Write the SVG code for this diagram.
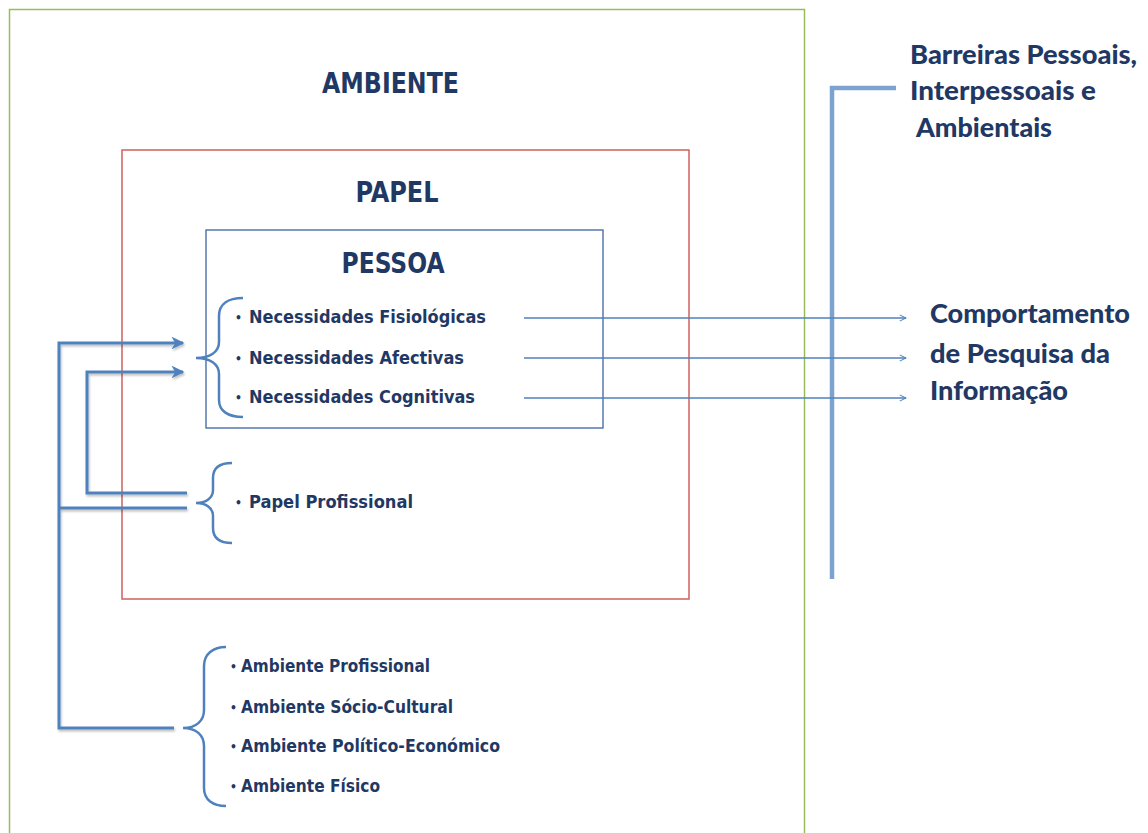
<svg xmlns="http://www.w3.org/2000/svg" width="1148" height="833" viewBox="0 0 1148 833">
<style>
.box{fill:none}
.t{font-family:'DejaVu Sans Condensed','DejaVu Sans',sans-serif;font-weight:bold;fill:#1f3864}
.r{font-family:Lato,'Liberation Sans',sans-serif;font-weight:900;fill:#1f3864}
.big{font-size:28px}
.item{font-size:18.5px}
.bul{font-size:12px}
.rt{font-size:26px}
.thick{fill:none;stroke:#4f81bd;stroke-width:3}
.thin{fill:none;stroke:#4f81bd;stroke-width:1.3}
.brace{fill:none;stroke:#4f81bd;stroke-width:2.5}
</style>
<defs>
<filter id="sh" x="-10%" y="-10%" width="120%" height="120%">
<feDropShadow dx="1" dy="2" stdDeviation="1.2" flood-color="#000" flood-opacity="0.25"/>
</filter>
<marker id="ah" viewBox="0 0 10 10" refX="9" refY="5" markerWidth="4.3" markerHeight="4.3" markerUnits="strokeWidth" orient="auto">
<path d="M0,0 L10,5 L0,10 L3,5 z" fill="#4f81bd"/>
</marker>
<marker id="at" viewBox="0 0 10 10" refX="9" refY="5" markerWidth="6" markerHeight="6" markerUnits="strokeWidth" orient="auto">
<path d="M1,1 L9,5 L1,9" fill="none" stroke="#4f81bd" stroke-width="1.3"/>
</marker>
</defs>
<rect width="1148" height="833" fill="#fff"/>

<g id="ambiente">
<rect class="box" x="9.5" y="9.5" width="795" height="850" stroke="#9bbb59" stroke-width="1.5"/>
<text class="t big" x="390.5" y="93" text-anchor="middle" textLength="137" lengthAdjust="spacingAndGlyphs">AMBIENTE</text>
</g>
<g id="papel">
<rect class="box" x="122" y="150" width="567" height="449" stroke="#d0605e" stroke-width="1.5"/>
<text class="t big" x="397" y="201.5" text-anchor="middle" textLength="83" lengthAdjust="spacingAndGlyphs">PAPEL</text>
</g>
<g id="pessoa">
<rect class="box" x="206" y="230" width="397" height="198" stroke="#3c64a0" stroke-width="1.3"/>
<text class="t big" x="393" y="272.5" text-anchor="middle" textLength="103" lengthAdjust="spacingAndGlyphs">PESSOA</text>
</g>

<g id="necessidades">
<path class="brace" d="M243,298 C228,298 219,304 219,316 L219,342 C219,352 210,358 196,358 C210,358 219,364 219,374 L219,400 C219,411 228,417 243,417"/>
<text class="t bul" x="235" y="322">•</text>
<text class="t item" x="249" y="323" textLength="237" lengthAdjust="spacingAndGlyphs">Necessidades Fisiológicas</text>
<text class="t bul" x="235" y="363">•</text>
<text class="t item" x="249" y="364" textLength="215" lengthAdjust="spacingAndGlyphs">Necessidades Afectivas</text>
<text class="t bul" x="235" y="402">•</text>
<text class="t item" x="249" y="403" textLength="226" lengthAdjust="spacingAndGlyphs">Necessidades Cognitivas</text>
</g>

<g id="papel-profissional">
<path class="brace" d="M232,463 C220,463 213,468 213,478 L213,490 C213,498 206,503 196,503 C206,503 213,508 213,516 L213,528 C213,538 220,543 232,543"/>
<text class="t bul" x="235" y="507">•</text>
<text class="t item" x="249" y="508" textLength="164" lengthAdjust="spacingAndGlyphs">Papel Profissional</text>
</g>

<g id="ambientes">
<path class="brace" d="M226,647 C213,647 204,654 204,666 L204,710 C204,721 196,728 183,728 C196,728 204,735 204,746 L204,788 C204,800 213,806 226,806"/>
<text class="t bul" x="230" y="671">•</text>
<text class="t item" x="241" y="672" textLength="189" lengthAdjust="spacingAndGlyphs">Ambiente Profissional</text>
<text class="t bul" x="230" y="712">•</text>
<text class="t item" x="241" y="713" textLength="212" lengthAdjust="spacingAndGlyphs">Ambiente Sócio-Cultural</text>
<text class="t bul" x="230" y="751">•</text>
<text class="t item" x="241" y="752" textLength="259" lengthAdjust="spacingAndGlyphs">Ambiente Político-Económico</text>
<text class="t bul" x="230" y="791">•</text>
<text class="t item" x="241" y="792" textLength="139" lengthAdjust="spacingAndGlyphs">Ambiente Físico</text>
</g>

<g id="barreiras">
<path d="M896,88 L832,88 L832,579" fill="none" stroke="#7ea2cf" stroke-width="4.5"/>
<text class="r rt" x="910" y="64" textLength="227" lengthAdjust="spacingAndGlyphs">Barreiras Pessoais,</text>
<text class="r rt" x="910" y="100" textLength="186" lengthAdjust="spacingAndGlyphs">Interpessoais e</text>
<text class="r rt" x="916" y="137" textLength="136" lengthAdjust="spacingAndGlyphs">Ambientais</text>
</g>

<g id="comportamento">
<text class="r rt" x="930" y="323" textLength="200" lengthAdjust="spacingAndGlyphs">Comportamento</text>
<text class="r rt" x="930" y="363" textLength="180" lengthAdjust="spacingAndGlyphs">de Pesquisa  da</text>
<text class="r rt" x="930" y="400" textLength="138" lengthAdjust="spacingAndGlyphs">Informação</text>
</g>

<g id="connectors">
<g filter="url(#sh)">
<path class="thick" d="M174,728 L59,728 L59,343 L183,343" marker-end="url(#ah)"/>
<path class="thick" d="M59,508 L187,508"/>
<path class="thick" d="M187,493 L87,493 L87,372 L183,372" marker-end="url(#ah)"/>
</g>
<path class="thin" d="M524,318 L906,318" marker-end="url(#at)"/>
<path class="thin" d="M524,358 L906,358" marker-end="url(#at)"/>
<path class="thin" d="M524,398 L906,398" marker-end="url(#at)"/>
</g>
</svg>
